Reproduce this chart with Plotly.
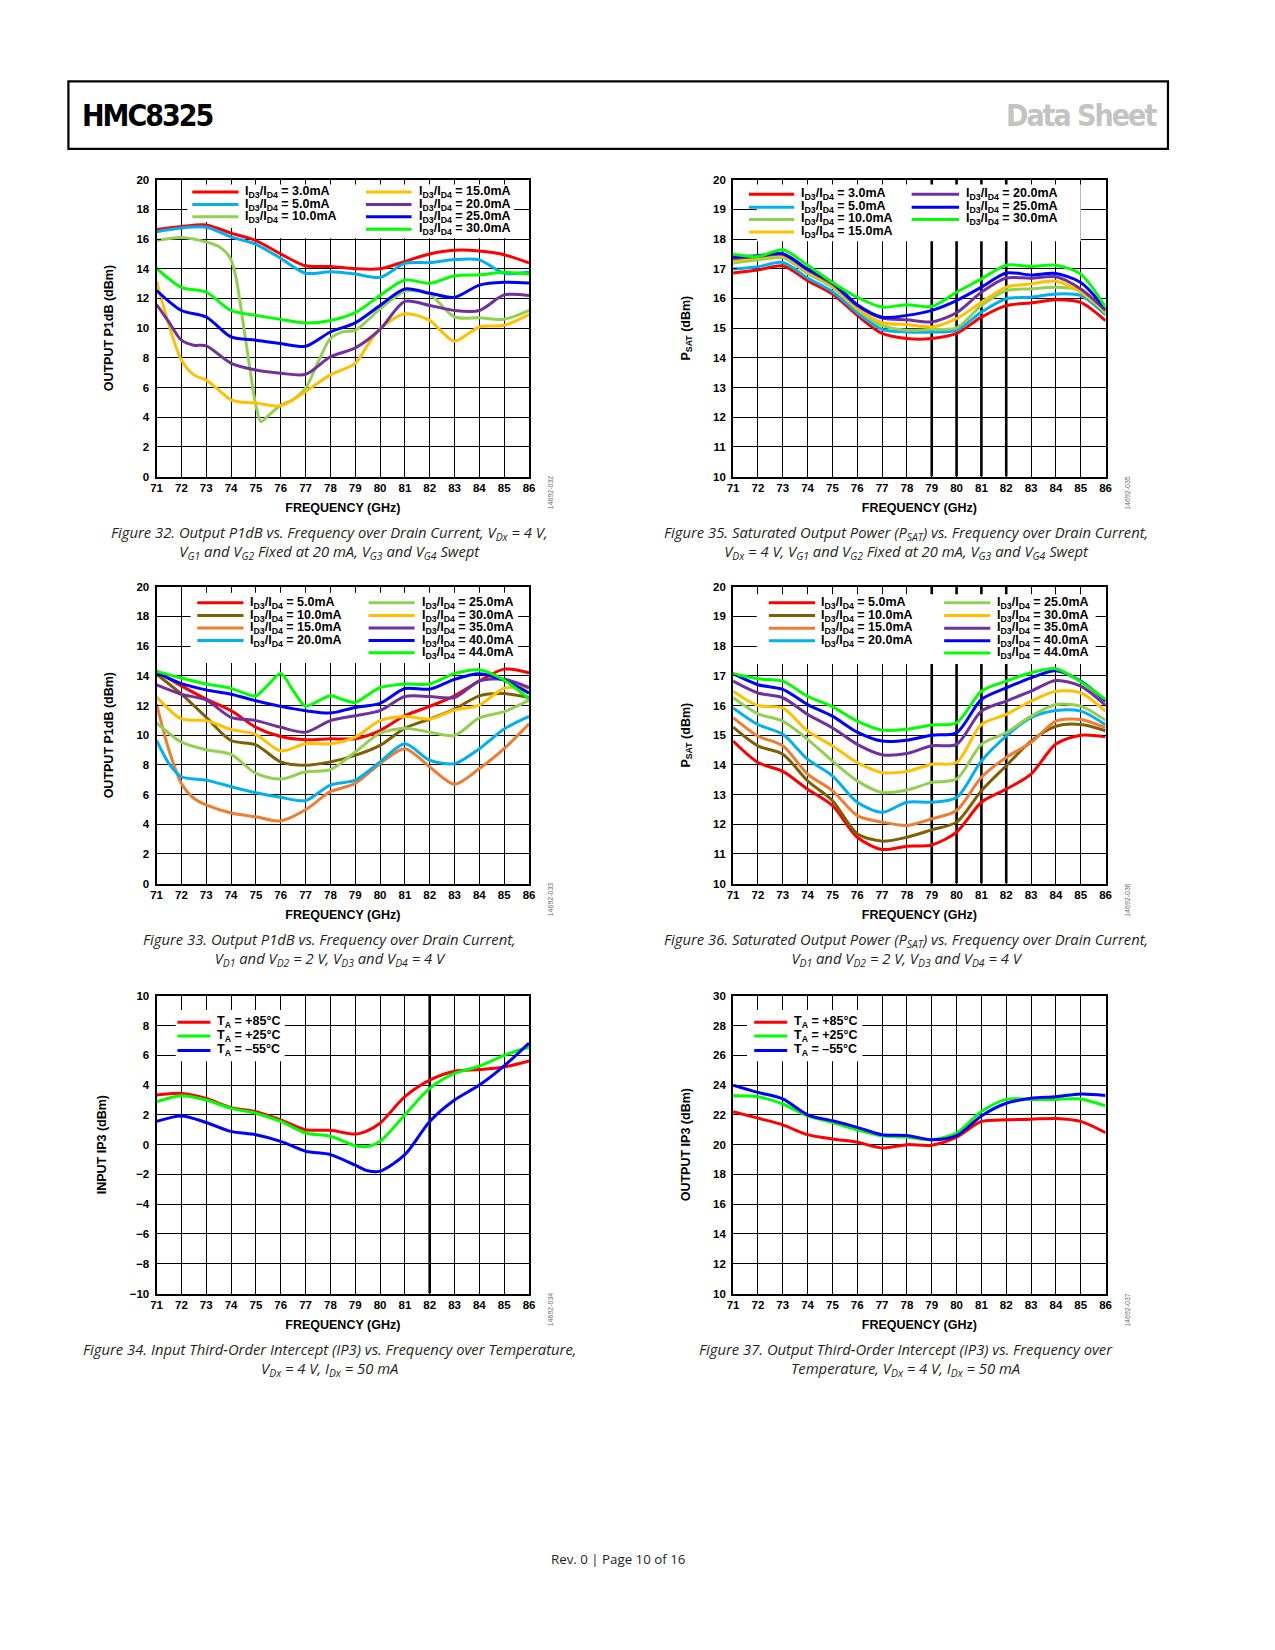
import plotly.graph_objects as go

W, H = 1275, 1650
FREQ = list(range(71, 87))

# ---------------- Figure 32: Output P1dB, VG1/VG2 fixed, VG3/VG4 swept
F32_3mA = [16.65, 16.85, 16.95, 16.4, 15.9, 15.0, 14.2, 14.15, 14.0, 14.0, 14.5, 15.0, 15.25, 15.2, 14.95, 14.4]
F32_5mA = [16.5, 16.75, 16.8, 16.15, 15.65, 14.7, 13.7, 13.8, 13.65, 13.42, 14.36, 14.42, 14.62, 14.6, 13.7, 13.78]
F32_X_10 = [71, 72, 73, 73.5, 73.8, 74, 74.2, 74.5, 74.8, 75, 75.2, 75.5, 76, 76.5, 77, 77.5, 78, 78.5, 79, 80, 81, 81.5, 82, 83, 84, 85, 86]
F32_10mA = [15.9, 16.1, 15.8, 15.5, 15.1, 14.6, 13.4, 10.2, 6.8, 4.8, 3.7, 4.1, 4.8, 5.2, 5.95, 7.7, 9.3, 9.75, 9.85, 11.3, 12.5, 12.5, 12.3, 10.75, 10.7, 10.6, 11.2]
F32_X_15 = [71, 71.5, 72, 72.5, 73, 73.5, 74, 74.5, 75, 76, 77, 78, 79, 79.5, 80, 81, 82, 82.5, 83, 84, 85, 86]
F32_15mA = [13.15, 10.2, 7.85, 6.85, 6.5, 5.84, 5.17, 5.0, 4.95, 4.77, 5.73, 6.85, 7.63, 8.85, 9.97, 10.97, 10.52, 9.74, 9.12, 10.08, 10.19, 10.93]
F32_X_20 = [71, 71.5, 72, 72.5, 73, 74, 75, 76, 77, 78, 79, 80, 81, 82, 83, 84, 85, 86]
F32_20mA = [11.59, 10.4, 9.19, 8.85, 8.81, 7.63, 7.18, 6.96, 6.89, 8.07, 8.67, 9.92, 11.8, 11.53, 11.19, 11.19, 12.24, 12.2]
F32_25mA = [12.53, 11.19, 10.75, 9.41, 9.19, 8.96, 8.78, 9.74, 10.35, 11.53, 12.64, 12.35, 12.08, 12.9, 13.09, 13.04]
F32_30mA = [14.02, 12.75, 12.42, 11.19, 10.86, 10.59, 10.35, 10.52, 11.04, 12.2, 13.24, 13.02, 13.53, 13.6, 13.76, 13.65]

# ---------------- Figure 35: PSAT, VG1/VG2 fixed, VG3/VG4 swept
F35_3mA = [16.86, 16.96, 17.1, 16.6, 16.15, 15.43, 14.82, 14.65, 14.65, 14.82, 15.37, 15.76, 15.85, 15.96, 15.87, 15.25]
F35_5mA = [16.99, 17.07, 17.21, 16.69, 16.23, 15.52, 14.96, 14.87, 14.87, 14.93, 15.54, 15.99, 16.04, 16.15, 16.1, 15.45]
F35_10mA = [17.19, 17.3, 17.38, 16.84, 16.38, 15.63, 15.09, 14.93, 14.96, 15.01, 15.76, 16.27, 16.32, 16.38, 16.27, 15.5]
F35_15mA = [17.27, 17.38, 17.44, 16.9, 16.43, 15.67, 15.18, 15.12, 15.04, 15.32, 15.87, 16.38, 16.49, 16.58, 16.21, 15.55]
F35_20mA = [17.35, 17.41, 17.49, 16.96, 16.49, 15.76, 15.34, 15.28, 15.21, 15.52, 16.21, 16.69, 16.68, 16.73, 16.32, 15.6]
F35_25mA = [17.4, 17.44, 17.51, 16.99, 16.54, 15.79, 15.37, 15.43, 15.6, 15.93, 16.38, 16.86, 16.79, 16.84, 16.54, 15.65]
F35_30mA = [17.49, 17.41, 17.64, 17.12, 16.54, 16.04, 15.71, 15.79, 15.73, 16.21, 16.66, 17.12, 17.08, 17.12, 16.82, 15.7]

# ---------------- Figure 33: Output P1dB, VD1/VD2 = 2 V
F33_5mA = [14.32, 13.32, 12.43, 11.65, 10.53, 9.91, 9.69, 9.76, 9.76, 10.31, 11.31, 11.94, 12.65, 13.65, 14.45, 14.2]
F33_10mA = [14.1, 12.76, 11.2, 9.64, 9.35, 8.2, 7.97, 8.2, 8.64, 9.31, 10.47, 11.09, 11.76, 12.65, 12.8, 12.54]
F33_X_15 = [71, 71.5, 72, 72.5, 73, 74, 75, 76, 77, 78, 79, 80, 81, 82, 83, 84, 85, 86]
F33_15mA = [12.09, 8.98, 6.75, 5.75, 5.3, 4.75, 4.5, 4.22, 4.97, 6.19, 6.75, 8.08, 9.09, 7.86, 6.7, 7.75, 9.09, 10.76]
F33_X_20 = [71, 71.5, 72, 73, 74, 75, 76, 77, 78, 79, 80, 81, 82, 83, 84, 85, 86]
F33_20mA = [9.64, 8.08, 7.2, 6.97, 6.53, 6.12, 5.81, 5.59, 6.64, 6.97, 8.2, 9.42, 8.31, 8.08, 9.09, 10.42, 11.27]
F33_25mA = [10.82, 9.53, 9.02, 8.71, 7.42, 7.04, 7.53, 7.68, 8.86, 10.13, 10.47, 10.2, 9.98, 11.16, 11.58, 12.36]
F33_30mA = [12.58, 11.09, 10.98, 10.38, 10.04, 8.93, 9.42, 9.42, 9.87, 10.98, 11.25, 11.09, 11.69, 12.03, 13.16, 13.16]
F33_35mA = [13.39, 12.76, 12.36, 11.2, 10.98, 10.53, 10.2, 10.98, 11.31, 11.65, 12.6, 12.6, 12.54, 13.65, 13.76, 13.2]
F33_40mA = [14.21, 13.47, 13.05, 12.76, 12.32, 11.94, 11.65, 11.49, 11.87, 12.14, 13.14, 13.1, 13.76, 14.14, 13.7, 12.83]
F33_X_44 = [71, 72, 73, 74, 74.5, 75, 75.5, 76, 76.5, 77, 77.5, 78, 78.5, 79, 79.5, 80, 81, 82, 83, 84, 85, 86]
F33_44mA = [14.3, 13.85, 13.45, 13.15, 12.85, 12.65, 13.4, 14.15, 13.0, 11.95, 12.3, 12.65, 12.4, 12.2, 12.7, 13.2, 13.45, 13.45, 14.15, 14.4, 13.7, 12.45]

# ---------------- Figure 36: PSAT, VD1/VD2 = 2 V
F36_5mA = [14.8, 14.08, 13.78, 13.18, 12.63, 11.56, 11.15, 11.26, 11.3, 11.73, 12.74, 13.18, 13.69, 14.7, 15.0, 14.95]
F36_10mA = [15.27, 14.64, 14.36, 13.46, 12.8, 11.68, 11.43, 11.56, 11.81, 12.07, 13.13, 13.97, 14.8, 15.3, 15.36, 15.15]
F36_15mA = [15.59, 14.97, 14.64, 13.69, 13.13, 12.29, 12.07, 11.96, 12.18, 12.46, 13.58, 14.25, 14.75, 15.47, 15.53, 15.25]
F36_20mA = [15.92, 15.36, 15.03, 14.19, 13.63, 12.74, 12.4, 12.74, 12.74, 12.9, 14.13, 14.97, 15.59, 15.83, 15.81, 15.35]
F36_25mA = [16.26, 15.72, 15.47, 14.86, 14.13, 13.46, 13.07, 13.15, 13.41, 13.52, 14.69, 15.08, 15.64, 16.03, 15.98, 15.5]
F36_30mA = [16.48, 16.0, 15.92, 15.14, 14.64, 14.08, 13.74, 13.78, 14.02, 14.08, 15.36, 15.7, 16.15, 16.48, 16.42, 15.8]
F36_35mA = [16.82, 16.42, 16.26, 15.7, 15.25, 14.69, 14.34, 14.38, 14.64, 14.69, 15.81, 16.15, 16.48, 16.84, 16.65, 16.0]
F36_40mA = [17.07, 16.7, 16.54, 16.03, 15.64, 15.1, 14.8, 14.83, 15.0, 15.08, 16.2, 16.59, 16.93, 17.17, 16.82, 16.15]
F36_44mA = [17.07, 16.9, 16.82, 16.31, 15.96, 15.47, 15.17, 15.2, 15.34, 15.42, 16.48, 16.82, 17.1, 17.24, 16.8, 16.2]

# ---------------- Figure 34: Input IP3 over temperature
TEMP_FREQ = [71, 72, 73, 74, 75, 76, 77, 78, 79, 79.5, 80, 81, 82, 83, 84, 85, 86]
F34_P85 = [3.33, 3.44, 3.1, 2.49, 2.22, 1.67, 1.0, 0.96, 0.71, 0.95, 1.44, 3.22, 4.33, 4.93, 5.04, 5.22, 5.62]
F34_P25 = [2.89, 3.29, 3.0, 2.44, 2.11, 1.56, 0.78, 0.56, -0.07, -0.12, 0.22, 2.0, 3.78, 4.78, 5.27, 6.0, 6.56]
F34_M55 = [1.56, 1.93, 1.49, 0.89, 0.67, 0.22, -0.44, -0.67, -1.38, -1.75, -1.78, -0.67, 1.56, 3.0, 4.0, 5.29, 6.82]

# ---------------- Figure 37: Output IP3 over temperature
F37_P85 = [22.22, 21.78, 21.33, 20.67, 20.38, 20.16, 19.78, 20.0, 19.96, 20.5, 21.56, 21.67, 21.71, 21.76, 21.56, 20.8]
F37_P25 = [23.29, 23.22, 22.73, 21.93, 21.49, 21.0, 20.6, 20.51, 20.33, 20.78, 22.22, 23.04, 23.04, 23.04, 23.07, 22.6]
F37_M55 = [24.0, 23.51, 23.07, 22.0, 21.6, 21.16, 20.67, 20.62, 20.33, 20.6, 21.93, 22.78, 23.11, 23.22, 23.4, 23.3]

RED, CYAN, LGREEN, YELLOW = "#ff0000", "#00b0f0", "#92d050", "#ffc000"
PURPLE, BLUE, GREEN, BROWN, ORANGE = "#7030a0", "#0000ff", "#00ff00", "#7f6000", "#ed7d31"

ID = "I<sub>D3</sub>/I<sub>D4</sub> = "
TA = "T<sub>A</sub> = "

PANELS = [
    dict(l=152, r=528, t=175, b=474, yr=[0, 20], dt=2, ytitle="OUTPUT P1dB (dBm)", thick=[],
         fid="14692-032",
         caption="Figure 32. Output P1dB vs. Frequency over Drain Current, V<sub>Dx</sub> = 4 V,<br>"
                 "V<sub>G1</sub> and V<sub>G2</sub> Fixed at 20 mA, V<sub>G3</sub> and V<sub>G4</sub> Swept",
         box=[(72.24, 19.68), (85.4, 19.68), (85.4, 16.05), (75.3, 16.05), (75.3, 16.75),
              (74.0, 16.75), (74.0, 17.15), (72.24, 17.15)],
         leg=dict(cols=[(72.44, 74.30, 74.48), (79.43, 81.27, 81.47)], rows=[19.17, 18.33, 17.5, 16.66]),
         series=[(ID + "3.0mA", FREQ, F32_3mA, RED, 0, 0),
                 (ID + "5.0mA", FREQ, F32_5mA, CYAN, 0, 1),
                 (ID + "10.0mA", F32_X_10, F32_10mA, LGREEN, 0, 2),
                 (ID + "15.0mA", F32_X_15, F32_15mA, YELLOW, 1, 0),
                 (ID + "20.0mA", F32_X_20, F32_20mA, PURPLE, 1, 1),
                 (ID + "25.0mA", FREQ, F32_25mA, BLUE, 1, 2),
                 (ID + "30.0mA", FREQ, F32_30mA, GREEN, 1, 3)]),
    dict(l=734, r=1110, t=175, b=474, yr=[10, 20], dt=1, ytitle="P<sub>SAT</sub> (dBm)", thick=[79, 80, 81, 82],
         fid="14692-035",
         caption="Figure 35. Saturated Output Power (P<sub>SAT</sub>) vs. Frequency over Drain Current,<br>"
                 "V<sub>Dx</sub> = 4 V, V<sub>G1</sub> and V<sub>G2</sub> Fixed at 20 mA, V<sub>G3</sub> and V<sub>G4</sub> Swept",
         box=[(71.95, 19.84), (85.0, 19.84), (85.0, 17.93), (71.95, 17.93)],
         leg=dict(cols=[(71.64, 73.46, 73.64), (78.19, 80.10, 80.30)], rows=[19.51, 19.07, 18.66, 18.24]),
         series=[(ID + "3.0mA", FREQ, F35_3mA, RED, 0, 0),
                 (ID + "5.0mA", FREQ, F35_5mA, CYAN, 0, 1),
                 (ID + "10.0mA", FREQ, F35_10mA, LGREEN, 0, 2),
                 (ID + "15.0mA", FREQ, F35_15mA, YELLOW, 0, 3),
                 (ID + "20.0mA", FREQ, F35_20mA, PURPLE, 1, 0),
                 (ID + "25.0mA", FREQ, F35_25mA, BLUE, 1, 1),
                 (ID + "30.0mA", FREQ, F35_30mA, GREEN, 1, 2)]),
    dict(l=152, r=528, t=585, b=884, yr=[0, 20], dt=2, ytitle="OUTPUT P1dB (dBm)", thick=[],
         fid="14692-033",
         caption="Figure 33. Output P1dB vs. Frequency over Drain Current,<br>"
                 "V<sub>D1</sub> and V<sub>D2</sub> = 2 V, V<sub>D3</sub> and V<sub>D4</sub> = 4 V",
         box=[(72.37, 19.6), (85.56, 19.6), (85.56, 14.86), (72.37, 14.86)],
         leg=dict(cols=[(72.64, 74.50, 74.68), (79.54, 81.39, 81.59)], rows=[18.93, 18.06, 17.22, 16.37, 15.55]),
         series=[(ID + "5.0mA", FREQ, F33_5mA, RED, 0, 0),
                 (ID + "10.0mA", FREQ, F33_10mA, BROWN, 0, 1),
                 (ID + "15.0mA", F33_X_15, F33_15mA, ORANGE, 0, 2),
                 (ID + "20.0mA", F33_X_20, F33_20mA, CYAN, 0, 3),
                 (ID + "25.0mA", FREQ, F33_25mA, LGREEN, 1, 0),
                 (ID + "30.0mA", FREQ, F33_30mA, YELLOW, 1, 1),
                 (ID + "35.0mA", FREQ, F33_35mA, PURPLE, 1, 2),
                 (ID + "40.0mA", FREQ, F33_40mA, BLUE, 1, 3),
                 (ID + "44.0mA", F33_X_44, F33_44mA, GREEN, 1, 4)]),
    dict(l=734, r=1110, t=585, b=884, yr=[10, 20], dt=1, ytitle="P<sub>SAT</sub> (dBm)", thick=[79, 80, 81, 82],
         fid="14692-036",
         caption="Figure 36. Saturated Output Power (P<sub>SAT</sub>) vs. Frequency over Drain Current,<br>"
                 "V<sub>D1</sub> and V<sub>D2</sub> = 2 V, V<sub>D3</sub> and V<sub>D4</sub> = 4 V",
         box=[(71.95, 19.75), (85.6, 19.75), (85.6, 17.4), (71.95, 17.4)],
         leg=dict(cols=[(72.44, 74.30, 74.46), (79.50, 81.36, 81.56)], rows=[19.46, 19.03, 18.60, 18.18, 17.77]),
         series=[(ID + "5.0mA", FREQ, F36_5mA, RED, 0, 0),
                 (ID + "10.0mA", FREQ, F36_10mA, BROWN, 0, 1),
                 (ID + "15.0mA", FREQ, F36_15mA, ORANGE, 0, 2),
                 (ID + "20.0mA", FREQ, F36_20mA, CYAN, 0, 3),
                 (ID + "25.0mA", FREQ, F36_25mA, LGREEN, 1, 0),
                 (ID + "30.0mA", FREQ, F36_30mA, YELLOW, 1, 1),
                 (ID + "35.0mA", FREQ, F36_35mA, PURPLE, 1, 2),
                 (ID + "40.0mA", FREQ, F36_40mA, BLUE, 1, 3),
                 (ID + "44.0mA", FREQ, F36_44mA, GREEN, 1, 4)]),
    dict(l=152, r=528, t=997, b=1297, yr=[-10, 10], dt=2, ytitle="INPUT IP3 (dBm)", thick=[82],
         fid="14692-034",
         caption="Figure 34. Input Third-Order Intercept (IP3) vs. Frequency over Temperature,<br>"
                 "V<sub>Dx</sub> = 4 V, I<sub>Dx</sub> = 50 mA",
         box=[(71.77, 9.04), (76.16, 9.04), (76.16, 5.6), (71.77, 5.6)],
         leg=dict(cols=[(71.84, 73.17, 73.34)], rows=[8.22, 7.29, 6.33]),
         series=[(TA + "+85°C", TEMP_FREQ, F34_P85, RED, 0, 0),
                 (TA + "+25°C", TEMP_FREQ, F34_P25, GREEN, 0, 1),
                 (TA + "–55°C", TEMP_FREQ, F34_M55, BLUE, 0, 2)]),
    dict(l=734, r=1110, t=997, b=1297, yr=[10, 30], dt=2, ytitle="OUTPUT IP3 (dBm)", thick=[],
         fid="14692-037",
         caption="Figure 37. Output Third-Order Intercept (IP3) vs. Frequency over<br>"
                 "Temperature, V<sub>Dx</sub> = 4 V, I<sub>Dx</sub> = 50 mA",
         box=[(71.56, 29.04), (76.21, 29.04), (76.21, 25.6), (71.56, 25.6)],
         leg=dict(cols=[(71.85, 73.18, 73.38)], rows=[28.22, 27.29, 26.33]),
         series=[(TA + "+85°C", FREQ, F37_P85, RED, 0, 0),
                 (TA + "+25°C", FREQ, F37_P25, GREEN, 0, 1),
                 (TA + "–55°C", FREQ, F37_M55, BLUE, 0, 2)]),
]

SANS = "Liberation Sans, Arial, Helvetica, sans-serif"
CAPF = "Open Sans, Noto Sans, sans-serif"

fig = go.Figure()
shapes, annots = [], []
layout = {}

for i, p in enumerate(PANELS, start=1):
    xa = "x" if i == 1 else f"x{i}"
    ya = "y" if i == 1 else f"y{i}"
    xk = "xaxis" if i == 1 else f"xaxis{i}"
    yk = "yaxis" if i == 1 else f"yaxis{i}"
    tick_font = dict(family=SANS, size=11.5, color="black", weight="bold")
    title_font = dict(family=SANS, size=12.5, color="black", weight="bold")
    layout[xk] = dict(domain=[p["l"] / W, p["r"] / W], anchor=ya, range=[71, 86], tick0=71, dtick=1,
                      showgrid=True, gridcolor="black", gridwidth=1, zeroline=False,
                      showline=True, linecolor="black", linewidth=2, mirror="ticks",
                      ticks="inside", ticklen=4, tickcolor="black", tickfont=tick_font,
                      ticklabelstandoff=0, fixedrange=True,
                      title=dict(text="FREQUENCY (GHz)", standoff=10, font=title_font))
    layout[yk] = dict(domain=[1 - p["b"] / H, 1 - p["t"] / H], anchor=xa, range=p["yr"], tick0=p["yr"][0],
                      dtick=p["dt"], showgrid=True, gridcolor="black", gridwidth=1, zeroline=False,
                      showline=True, linecolor="black", linewidth=2, mirror="ticks",
                      ticks="inside", ticklen=4, tickcolor="black", tickfont=tick_font,
                      ticklabelstandoff=3, fixedrange=True,
                      title=dict(text=p["ytitle"], standoff=20, font=title_font))
    # heavier printed grid lines (under the curves)
    for fx in p["thick"]:
        shapes.append(dict(type="line", xref=xa, yref=ya, x0=fx, x1=fx, y0=p["yr"][0], y1=p["yr"][1],
                           line=dict(color="black", width=2.6), layer="below"))
    # white legend background
    path = "M" + " L".join(f"{x},{y}" for x, y in p["box"]) + " Z"
    shapes.append(dict(type="path", xref=xa, yref=ya, path=path,
                       fillcolor="white", line=dict(width=0), layer="above"))
    for name, xs, ys, col, c, r in p["series"]:
        fig.add_trace(go.Scatter(x=xs, y=ys, mode="lines", name=name, xaxis=xa, yaxis=ya,
                                 line=dict(color=col, width=3, shape="spline", smoothing=0.8),
                                 showlegend=False, hoverinfo="skip"))
        sx0, sx1, tx = p["leg"]["cols"][c]
        ry = p["leg"]["rows"][r]
        shapes.append(dict(type="line", xref=xa, yref=ya, x0=sx0, x1=sx1, y0=ry, y1=ry,
                           line=dict(color=col, width=3), layer="above"))
        annots.append(dict(xref=xa, yref=ya, x=tx, y=ry, text=name, showarrow=False,
                           xanchor="left", yanchor="middle",
                           font=dict(family=SANS, size=12.5, color="black", weight="bold")))
    # caption
    cx = 327 if p["l"] < 600 else 909
    annots.append(dict(xref="paper", yref="paper", x=cx / W, y=1 - (p["b"] + 66) / H,
                       text=p["caption"], showarrow=False, xanchor="center", yanchor="middle",
                       align="center", font=dict(family=CAPF, size=14.8, color="#231f20", style="italic")))
    # figure id
    annots.append(dict(xref="paper", yref="paper", x=(p["r"] + 22) / W, y=1 - (p["b"] + 16) / H,
                       text=p["fid"], showarrow=False, textangle=-90, xanchor="center", yanchor="middle",
                       font=dict(family=SANS, size=7, color="#6d6e71")))

# header
shapes.append(dict(type="rect", xref="paper", yref="paper", x0=63 / W, x1=1173 / W,
                   y0=1 - 144 / H, y1=1 - 76 / H, line=dict(color="black", width=2.2),
                   fillcolor="rgba(0,0,0,0)", layer="above"))
HEADF = "DejaVu Sans Condensed, Liberation Sans Narrow, sans-serif"
annots.append(dict(xref="paper", yref="paper", x=75 / W, y=1 - 110 / H,
                   text='<span style="letter-spacing:-2px">HMC8325</span>', showarrow=False,
                   xanchor="left", yanchor="middle",
                   font=dict(family=HEADF, size=30, color="black", weight="bold")))
annots.append(dict(xref="paper", yref="paper", x=1164 / W, y=1 - 110 / H,
                   text='<span style="letter-spacing:-2px">Data Sheet</span>', showarrow=False,
                   xanchor="right", yanchor="middle",
                   font=dict(family=HEADF, size=30, color="#c3c3c3", weight="bold")))
# footer
annots.append(dict(xref="paper", yref="paper", x=618 / W, y=1 - 1564 / H, text="Rev. 0 | Page 10 of 16",
                   showarrow=False, xanchor="center", yanchor="middle",
                   font=dict(family=CAPF, size=13.3, color="#231f20")))

fig.update_layout(width=W, height=H, margin=dict(l=0, r=0, t=0, b=0), paper_bgcolor="white",
                  plot_bgcolor="white", showlegend=False, shapes=shapes, annotations=annots,
                  hovermode=False, **layout)

fig.write_html("out.html", config={"displayModeBar": False},
               post_script="document.body.style.margin='0';document.body.style.overflow='hidden';")
